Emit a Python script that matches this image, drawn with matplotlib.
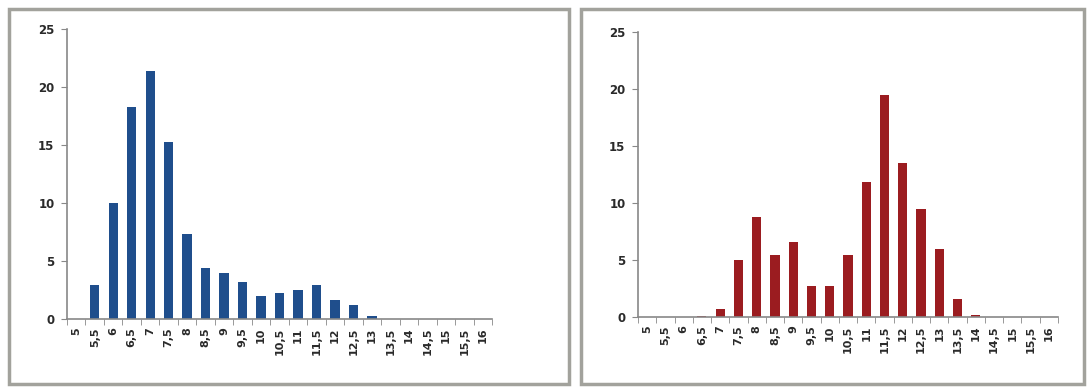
import matplotlib
matplotlib.use("Agg")
from matplotlib import pyplot as plt
from matplotlib.patches import Rectangle
import numpy as np

# categorias (5 a 16 de 0,5 em 0,5)
categorias = ['5', '5,5', '6', '6,5', '7', '7,5', '8', '8,5', '9', '9,5', '10', '10,5',
              '11', '11,5', '12', '12,5', '13', '13,5', '14', '14,5', '15', '15,5', '16']

# valores
azul = [0, 2.9, 10.0, 18.3, 21.4, 15.3, 7.3, 4.4, 4.0, 3.2, 2.0, 2.2,
        2.5, 2.9, 1.6, 1.2, 0.3, 0, 0, 0, 0, 0, 0]
vermelho = [0, 0, 0, 0.1, 0.7, 5.0, 8.8, 5.4, 6.6, 2.7, 2.7, 5.4,
            11.8, 19.5, 13.5, 9.5, 6.0, 1.6, 0.2, 0, 0, 0, 0]

W, H = 1087, 387
fig = plt.figure(figsize=(W / 100, H / 100), dpi=100)
fig.patch.set_facecolor('white')


def px_axes(x0, y0, x1, y1):
    # converte pixeis (topo-esquerda) para fraccao da figura
    return fig.add_axes([x0 / W, 1 - y1 / H, (x1 - x0) / W, (y1 - y0) / H])


def moldura(x0, y0, x1, y1):
    fig.patches.append(Rectangle((x0 / W, 1 - y1 / H), (x1 - x0) / W, (y1 - y0) / H,
                                 transform=fig.transFigure, fill=False,
                                 edgecolor='#a2a29c', linewidth=2.5))


def desenhar(ax, valores, cor):
    x = np.arange(len(categorias))
    ax.bar(x, valores, width=0.5, color=cor, edgecolor='none', zorder=2)
    ax.set_xlim(-0.5, len(categorias) - 0.5)
    ax.set_ylim(0, 25)
    ax.set_yticks([0, 5, 10, 15, 20, 25])
    ax.set_xticks(x)
    ax.set_xticklabels(categorias, rotation=90, fontsize=8, color='#2a2a2a', fontweight='bold')
    ax.set_xticks(np.arange(-0.5, len(categorias)), minor=True)
    ax.tick_params(axis='x', which='major', length=0, pad=6)
    ax.tick_params(axis='x', which='minor', length=4, color='#888888', direction='out')
    ax.tick_params(axis='y', length=4, color='#888888', labelsize=8.5, labelcolor='#2a2a2a', pad=5)
    for t in ax.get_yticklabels():
        t.set_fontweight('bold')
    for s in ['top', 'right']:
        ax.spines[s].set_visible(False)
    for s in ['left', 'bottom']:
        ax.spines[s].set_color('#888888')
        ax.spines[s].set_linewidth(1.2)


moldura(9, 9, 569, 384)
moldura(581, 9, 1084, 384)

ax1 = px_axes(67, 29, 492, 319)
desenhar(ax1, azul, '#1f4e8c')

ax2 = px_axes(638, 32, 1058, 317)
desenhar(ax2, vermelho, '#9b1c20')

fig.savefig('out.png', dpi=100)
